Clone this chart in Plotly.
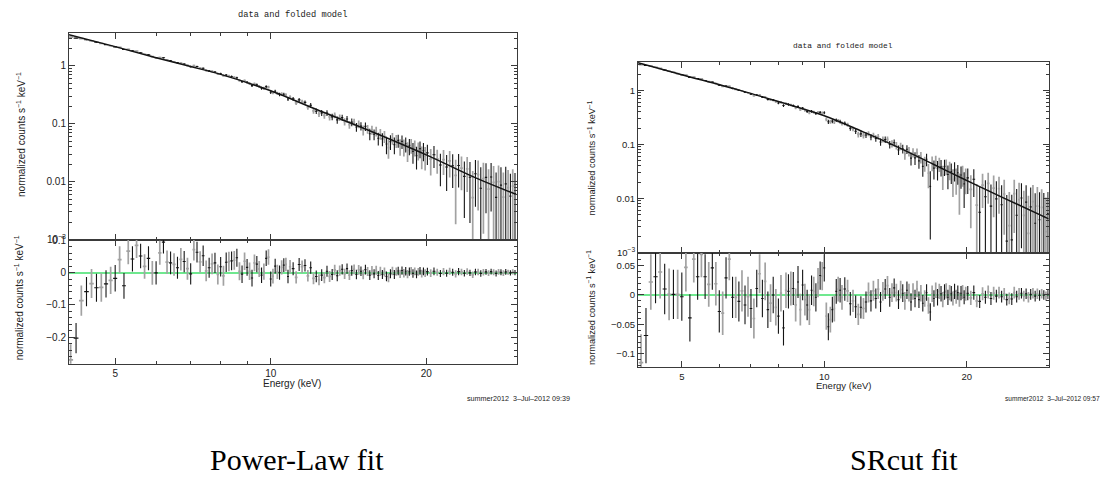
import numpy as np
import plotly.graph_objects as go

W, H = 1102, 487

# ---------------- data ----------------
# spectral bins (keV), same spectrum in both fits; bins alternate between two data groups
energy_keV = [
    4.1, 4.2, 4.3, 4.4, 4.5, 4.6, 4.7, 4.8, 4.9, 5.0,
    5.1, 5.2, 5.3, 5.4, 5.5, 5.6, 5.7, 5.8, 5.9, 6.0,
    6.1, 6.2, 6.3, 6.4, 6.5, 6.6, 6.7, 6.8, 6.9, 7.0,
    7.1, 7.2, 7.3, 7.4, 7.5, 7.6, 7.7, 7.8, 7.9, 8.0,
    8.1, 8.2, 8.3, 8.4, 8.5, 8.6, 8.7, 8.8, 8.9, 9.0,
    9.1, 9.2, 9.3, 9.4, 9.5, 9.6, 9.7, 9.8, 9.9, 10.0,
    10.1, 10.2, 10.3, 10.4, 10.5, 10.6, 10.7, 10.8, 10.9,
    11.05, 11.2, 11.35, 11.5, 11.65, 11.8, 11.95, 12.1, 12.25, 12.4,
    12.55, 12.7, 12.85, 13.0, 13.15, 13.3, 13.45, 13.6, 13.75, 13.9,
    14.05, 14.2, 14.35, 14.5, 14.65, 14.8, 14.95, 15.1, 15.25, 15.4,
    15.55, 15.7, 15.85, 16.0, 16.15, 16.3, 16.45, 16.6, 16.75, 16.9,
    17.05, 17.2, 17.35, 17.5, 17.65, 17.8, 17.95, 18.1, 18.25, 18.4,
    18.55, 18.7, 18.85, 19.0, 19.15, 19.3, 19.45, 19.6, 19.75, 19.9,
    20.1, 20.4, 20.7, 21.0, 21.3, 21.6, 21.9, 22.2, 22.5, 22.8,
    23.1, 23.4, 23.7, 24.0, 24.3, 24.6, 24.9, 25.2, 25.5, 25.8,
    26.1, 26.4, 26.7, 27.0, 27.3, 27.6, 27.9, 28.2, 28.5, 28.8,
    29.1, 29.4, 29.7,
]

# 1-sigma errors (normalized counts s^-1 keV^-1)
count_err = [
    .048, .047, .047, .045, .045, .043, .044, .042, .042, .041,
    .041, .040, .040, .039, .039, .038, .038, .037, .037, .036,
    .037, .035, .036, .035, .035, .034, .035, .033, .034, .033,
    .034, .032, .033, .032, .032, .031, .032, .031, .031, .030,
    .031, .030, .030, .029, .029, .028, .028, .027, .027, .026,
    .027, .026, .026, .025, .025, .024, .025, .024, .024, .023,
    .023, .023, .022, .022, .022, .021, .021, .021, .021,
    .020, .019, .020, .019, .019, .018, .019, .018, .018, .017,
    .018, .017, .017, .017, .017, .016, .017, .016, .016, .016,
    .016, .015, .016, .015, .015, .015, .015, .015, .015, .014,
    .015, .014, .014, .014, .014, .014, .014, .014, .015, .014,
    .014, .013, .014, .013, .013, .013, .013, .013, .013, .013,
    .013, .012, .013, .012, .012, .012, .012, .012, .012, .012,
    .012, .012, .012, .011, .011, .011, .011, .011, .011, .011,
    .011, .010, .010, .010, .010, .010, .010, .010, .010, .010,
    .009, .009, .009, .009, .009, .009, .009, .009, .009, .008,
    .008, .008, .008,
]

# residuals (data - folded model) for the power-law fit
resid_powerlaw = [
    -0.270, -0.203, -0.087, -0.059, -0.034, -0.047, -0.046, -0.035, -0.024, -0.018,
    0.040, -0.041, 0.066, 0.042, 0.084, 0.051, 0.019, 0.044, -0.001, -0.001,
    0.061, 0.094, 0.032, 0.030, 0.025, 0.015, 0.041, 0.034, 0.012, -0.004,
    0.071, 0.063, 0.033, 0.052, 0.005, 0.015, 0.027, 0.030, -0.006, 0.018,
    -0.010, 0.032, 0.034, 0.036, 0.038, 0.046, 0.004, -0.005, 0.035, 0.016,
    0.004, -0.017, 0.030, 0.026, 0.011, -0.008, 0.003, 0.044, 0.048, -0.020,
    -0.011, 0.020, 0.002, 0.000, 0.016, 0.023, 0.025, -0.012, 0.018,
    0.012, -0.015, 0.025, 0.018, 0.022, -0.010, 0.015, -0.018, -0.012, -0.022,
    -0.008, -0.016, 0.004, -0.012, -0.006, 0.008, -0.010, 0.006, 0.010, -0.004,
    0.012, -0.008, 0.006, 0.010, -0.006, 0.008, 0.004, -0.006, 0.009, 0.003,
    -0.008, 0.006, -0.004, 0.007, -0.009, 0.004, -0.006, 0.002, -0.012, -0.016,
    -0.004, 0.005, -0.006, 0.003, 0.005, -0.004, 0.006, -0.002, 0.004, -0.005,
    0.003, 0.005, -0.003, 0.004, -0.006, 0.002, 0.005, -0.003, 0.004, -0.002,
    0.003, -0.002, 0.004, 0.001, -0.003, 0.003, -0.002, 0.004, 0.001, -0.004,
    0.003, 0.002, -0.002, 0.003, -0.001, -0.007, 0.002, 0.002, -0.003, 0.001,
    0.002, -0.002, 0.003, 0.001, -0.003, 0.002, 0.001, -0.002, 0.002, 0.001,
    -0.001, 0.002, 0.000,
]

# residuals for the SRcut fit
resid_srcut = [
    -0.115, -0.069, 0.022, 0.031, 0.039, 0.010, 0.001, 0.001, 0.001, -0.003,
    0.047, -0.039, 0.061, 0.031, 0.069, 0.031, 0.018, 0.046, 0.019, -0.028,
    -0.031, 0.029, 0.061, -0.004, -0.004, -0.011, 0.007, -0.017, -0.003, -0.023,
    -0.040, 0.011, 0.036, -0.006, 0.023, -0.025, -0.014, 0.000, -0.021, -0.036,
    0.003, -0.056, 0.008, 0.006, 0.011, 0.011, -0.017, 0.022, -0.025, 0.017,
    -0.008, -0.017, -0.025, 0.008, 0.006, -0.004, 0.021, 0.033, 0.032, 0.046,
    -0.036, -0.054, -0.042, -0.025, -0.023, 0.006, 0.010, 0.008, -0.004,
    0.010, 0.007, -0.015, -0.010, -0.020, -0.033, -0.021, -0.023, -0.012, 0.004,
    -0.010, 0.007, -0.006, 0.010, -0.012, 0.006, 0.010, 0.016, -0.004, 0.004,
    0.012, 0.004, -0.008, 0.009, 0.003, -0.010, 0.008, 0.004, -0.012, 0.006,
    -0.006, 0.010, -0.008, 0.003, -0.014, -0.006, 0.004, -0.018, -0.029, 0.002,
    -0.006, 0.008, -0.004, 0.006, 0.002, -0.008, 0.005, 0.007, -0.004, 0.004,
    0.002, -0.006, 0.006, -0.003, 0.004, -0.008, 0.003, 0.005, -0.004, 0.002,
    0.003, -0.005, 0.004, -0.010, -0.011, 0.002, -0.004, 0.005, -0.006, 0.003,
    -0.002, 0.004, -0.003, 0.002, -0.008, -0.006, -0.007, 0.004, -0.003, 0.002,
    0.003, -0.002, 0.002, -0.004, 0.001, 0.003, -0.002, 0.002, -0.001, 0.002,
    0.000, -0.002, 0.001,
]

# folded model curves (read at a few energies)
model_pl_E = [4.07, 5.0, 6.0, 7.0, 8.0, 10.0, 12.0, 15.0, 20.0, 25.0, 29.9]
model_pl = [3.44, 2.14, 1.38, 0.97, 0.71, 0.37, 0.19, 0.086, 0.029, 0.0115, 0.0060]
model_sr_E = [4.04, 5.0, 6.64, 8.0, 10.0, 12.0, 14.0, 17.0, 20.0, 23.9, 29.8]
model_sr = [3.23, 1.95, 1.0, 0.62, 0.34, 0.175, 0.097, 0.043, 0.0215, 0.0103, 0.0042]

# tick labels
x_major = [5, 10, 20]
x_major_text = ["5", "10", "20"]
x_minor = [6, 7, 8, 9]
y_major = [1, 0.1, 0.01, 0.001]
y_major_text = ["1", "0.1", "0.01", "10<sup>\u22123</sup>"]
res_pl_ticks = [0.1, 0, -0.1, -0.2]
res_pl_text = ["0.1", "0", "\u22120.1", "\u22120.2"]
res_sr_ticks = [0.05, 0, -0.05, -0.1]
res_sr_text = ["0.05", "0", "\u22120.05", "\u22120.1"]

title_text = "data and folded model"
ylabel_text = "normalized counts s<sup>\u22121</sup> keV<sup>\u22121</sup>"
xlabel_text = "Energy (keV)"
stamp_pl = "summer2012\u00a0\u00a03\u2013Jul\u20132012\u00a009:39"
stamp_sr = "summer2012\u00a0\u00a03\u2013Jul\u20132012\u00a009:57"
captions = ["Power-Law fit", "SRcut fit"]

# ---------------- styling ----------------
FRAME = "#3a3a3a"
BLACK = "#141414"
GRAY = "#a2a2a2"
GREEN = "#6fe88f"
SANS = "Liberation Sans"

E = np.array(energy_keV)
err = np.array(count_err)
half_w = np.gradient(E) * 0.45
gray_mask = np.arange(len(E)) % 2 == 0
black_mask = ~gray_mask


def model_at(nodesE, nodesV, e):
    return 10 ** np.interp(np.log10(e), np.log10(nodesE), np.log10(nodesV))


minor_log = [m * 10.0 ** k for k in range(-3, 1) for m in range(2, 10)]

fig = go.Figure()


def px_x(p):
    return p / W


def px_y(p):
    return 1 - p / H


charts = [
    dict(resid=resid_powerlaw, mE=model_pl_E, mV=model_pl,
         xpx=(69, 516.5), toppx=(29, 240), respx=(240, 367),
         xr=[np.log10(4.07), np.log10(29.9)], yr=[-3, 0.56], rr=[-0.282, 0.102],
         rticks=res_pl_ticks, rtext=res_pl_text, rminor=0.02, fs=10,
         axes=("x", "y", "x2", "y2")),
    dict(resid=resid_srcut, mE=model_sr_E, mV=model_sr,
         xpx=(638, 1048.7), toppx=(58.3, 253.3), respx=(253.3, 370.7),
         xr=[np.log10(4.04), np.log10(29.8)], yr=[-3, 0.525], rr=[-0.123, 0.072],
         rticks=res_sr_ticks, rtext=res_sr_text, rminor=0.01, fs=9.5,
         axes=("x3", "y3", "x4", "y4")),
]

layout_axes = {}
for c in charts:
    xa_t, ya_t, xa_r, ya_r = c["axes"]
    res = np.array(c["resid"])
    mod = model_at(c["mE"], c["mV"], E)
    data = mod + res
    for mask, col, th in ((gray_mask, GRAY, 1.7), (black_mask, BLACK, 1.1)):
        for xa, ya, yv in ((xa_t, ya_t, data), (xa_r, ya_r, res)):
            fig.add_trace(go.Scatter(
                x=E[mask], y=yv[mask], mode="markers", xaxis=xa, yaxis=ya,
                marker=dict(size=1, color=col, opacity=0),
                error_y=dict(type="data", array=err[mask], color=col, thickness=th, width=0),
                error_x=dict(type="data", array=half_w[mask], color=col, thickness=th, width=0),
                hoverinfo="skip", showlegend=False))
    fig.add_trace(go.Scatter(x=c["mE"], y=c["mV"], mode="lines", xaxis=xa_t, yaxis=ya_t,
                             line=dict(color=BLACK, width=1.5, shape="spline", smoothing=1.0),
                             hoverinfo="skip", showlegend=False))

    xdom = [px_x(c["xpx"][0]), px_x(c["xpx"][1])]
    ydom_t = [px_y(c["toppx"][1]), px_y(c["toppx"][0])]
    ydom_r = [px_y(c["respx"][1]), px_y(c["respx"][0])]
    tf = dict(family=SANS, size=c["fs"], color="#222")
    common = dict(showline=True, linecolor=FRAME, linewidth=1, mirror="allticks",
                  showgrid=False, ticks="inside", ticklen=6, tickwidth=1, tickcolor=FRAME,
                  tickfont=tf)
    xcommon = dict(type="log", domain=xdom, range=c["xr"], tickmode="array",
                   tickvals=x_major, ticktext=x_major_text, zeroline=False,
                   minor=dict(tickmode="array", tickvals=x_minor, ticks="inside",
                              ticklen=3, tickcolor=FRAME, tickwidth=1, showgrid=False),
                   **common)
    n_t = xa_t.replace("x", "xaxis")
    n_r = xa_r.replace("x", "xaxis")
    layout_axes[n_t] = dict(anchor=ya_t, showticklabels=False, **xcommon)
    layout_axes[n_r] = dict(anchor=ya_r, showticklabels=True, **xcommon)
    layout_axes[ya_t.replace("y", "yaxis")] = dict(
        type="log", domain=ydom_t, range=c["yr"], anchor=xa_t, tickmode="array",
        tickvals=y_major, ticktext=y_major_text, zeroline=False,
        minor=dict(tickmode="array", tickvals=minor_log, ticks="inside", ticklen=3,
                   tickcolor=FRAME, tickwidth=1, showgrid=False),
        **common)
    layout_axes[ya_r.replace("y", "yaxis")] = dict(
        domain=ydom_r, range=c["rr"], anchor=xa_r, tickmode="array",
        tickvals=c["rticks"], ticktext=c["rtext"],
        zeroline=True, zerolinecolor=GREEN, zerolinewidth=1.5,
        minor=dict(dtick=c["rminor"], ticks="inside", ticklen=3,
                   tickcolor=FRAME, tickwidth=1, showgrid=False),
        **common)

fig.update_layout(**layout_axes)

ann = []


def add_text(text, x, y, size, family=SANS, angle=0, xanchor="center", color="#222"):
    ann.append(dict(text=text, x=px_x(x), y=px_y(y), xref="paper", yref="paper",
                    showarrow=False, textangle=angle, xanchor=xanchor, yanchor="middle",
                    font=dict(family=family, size=size, color=color)))


add_text(title_text, 292, 10, 8.7, family="Liberation Mono")
add_text(title_text, 843, 41, 7.9, family="Liberation Mono")
add_text(ylabel_text, 21, 133, 10, angle=-90)
add_text(ylabel_text, 19, 300, 10, angle=-90)
add_text(ylabel_text, 592, 157, 9.2, angle=-90)
add_text(ylabel_text, 591, 310, 9.2, angle=-90)
add_text(xlabel_text, 292, 387, 10)
add_text(xlabel_text, 843, 389, 9.5)
add_text(stamp_pl, 465, 403, 7.2, xanchor="left")
add_text(stamp_sr, 1003, 403, 6.6, xanchor="left")
add_text(captions[0], 208, 465, 30, family="Liberation Serif", xanchor="left", color="#000")
add_text(captions[1], 848, 465, 30, family="Liberation Serif", xanchor="left", color="#000")

fig.update_layout(width=W, height=H, margin=dict(l=0, r=0, t=0, b=0),
                  paper_bgcolor="white", plot_bgcolor="white", showlegend=False,
                  font=dict(family=SANS, color="#222"), annotations=ann)

fig.write_html("out.html")
